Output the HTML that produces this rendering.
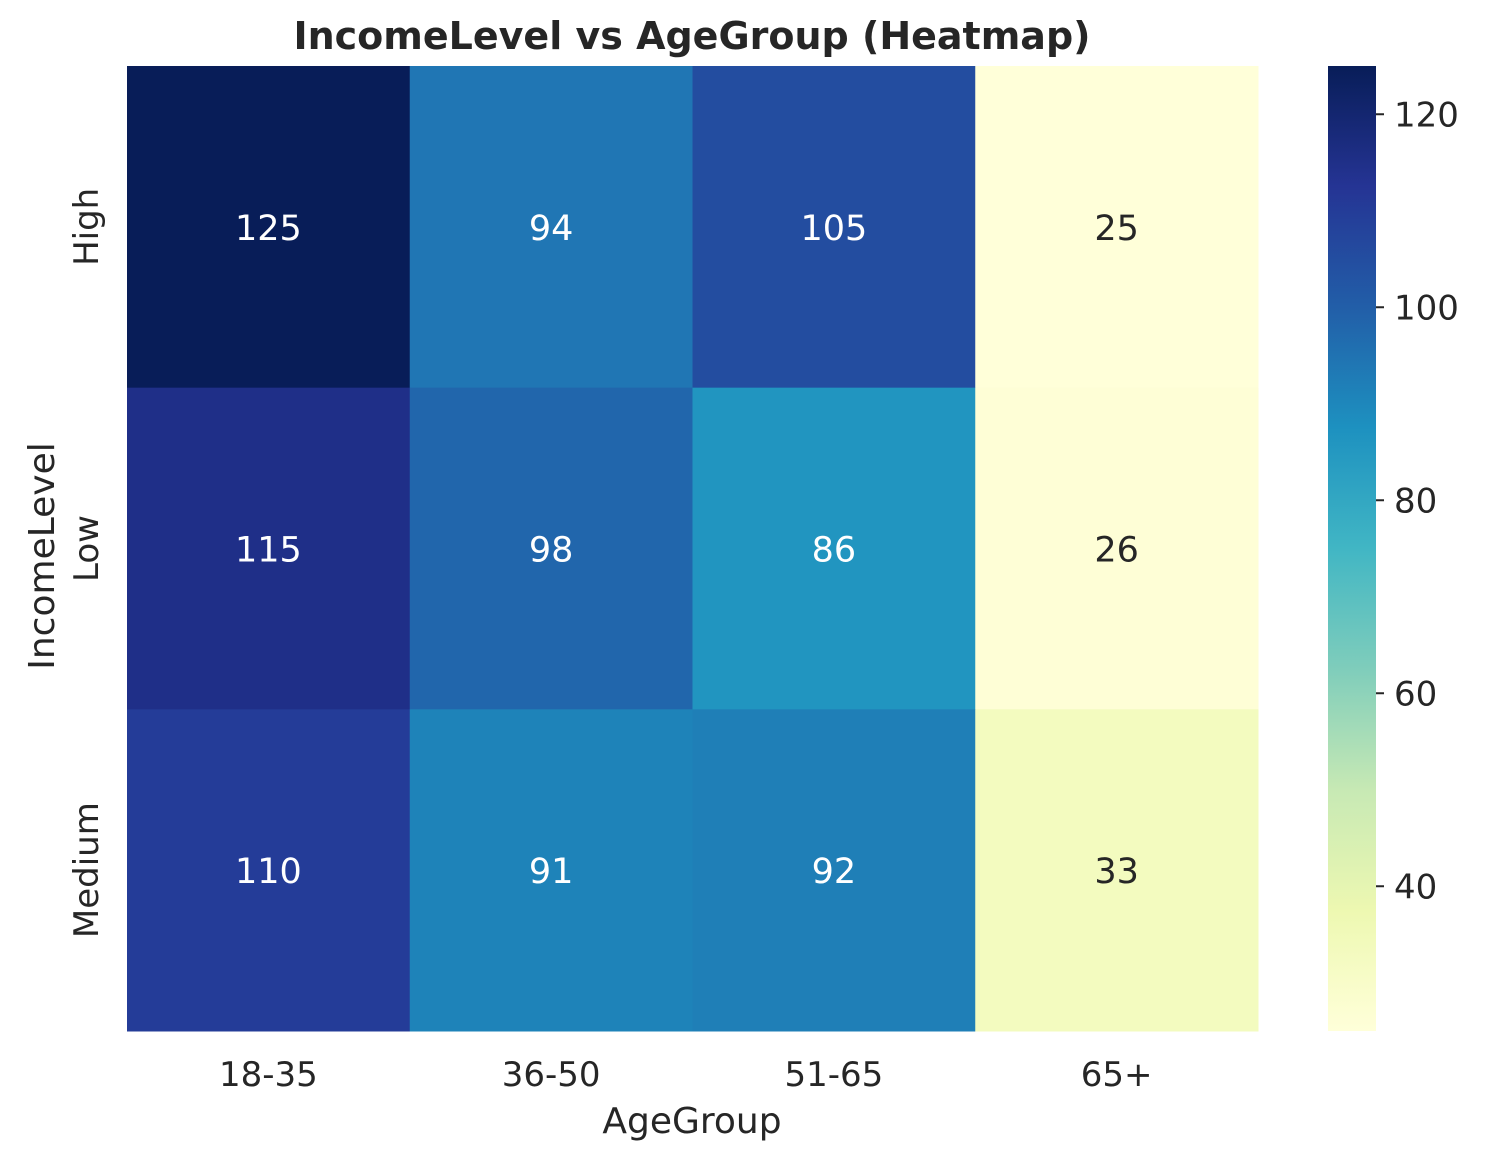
<!DOCTYPE html>
<html><head><meta charset="utf-8"><style>
body{margin:0;background:#fff;}
svg text{font-family:"DejaVu Sans","Liberation Sans",sans-serif;fill:#262626;}
</style></head><body>
<svg id="chart" width="1488" height="1160" xmlns="http://www.w3.org/2000/svg">
<defs><linearGradient id="cbg" x1="0" y1="1" x2="0" y2="0">
<stop offset="0" stop-color="#ffffd9"/><stop offset="0.125" stop-color="#edf8b1"/><stop offset="0.25" stop-color="#c7e9b4"/><stop offset="0.375" stop-color="#7fcdbb"/><stop offset="0.5" stop-color="#41b6c4"/><stop offset="0.625" stop-color="#1d91c0"/><stop offset="0.75" stop-color="#225ea8"/><stop offset="0.875" stop-color="#253494"/><stop offset="1" stop-color="#081d58"/>
</linearGradient></defs>
<text x="692" y="49" text-anchor="middle" font-size="38" font-weight="bold">IncomeLevel vs AgeGroup (Heatmap)</text>
<g id="cells"></g>
<rect x="1328" y="66" width="48" height="965" fill="url(#cbg)"/>
<g id="cbticks"></g>
<text x="692" y="1133" text-anchor="middle" font-size="36">AgeGroup</text>
<text transform="translate(54,556) rotate(-90)" text-anchor="middle" font-size="36">IncomeLevel</text>
</svg>
<script>
const columns=["18-35","36-50","51-65","65+"];
const rows=["High","Low","Medium"];
const values=[[125,94,105,25],[115,98,86,26],[110,91,92,33]];
const cbTicks=[40,60,80,100,120];
const vmin=25,vmax=125;
const stops=["#ffffd9","#edf8b1","#c7e9b4","#7fcdbb","#41b6c4","#1d91c0","#225ea8","#253494","#081d58"];
const X0=127,X1=1258,Y0=66,Y1=1031;
const NS="http://www.w3.org/2000/svg";
function hex(h){return [1,3,5].map(i=>parseInt(h.substr(i,2),16));}
function color(v){let t=Math.max(0,Math.min(1,(v-vmin)/(vmax-vmin)))*(stops.length-1);let i=Math.min(Math.floor(t),stops.length-2);let f=t-i;let a=hex(stops[i]),b=hex(stops[i+1]);let c=a.map((x,k)=>Math.round(x+(b[k]-x)*f));return {css:`rgb(${c})`,lum:(0.299*c[0]+0.587*c[1]+0.114*c[2])};}
const cw=(X1-X0)/columns.length,ch=(Y1-Y0)/rows.length;
function xS(i){return X0+i*cw;} function yS(j){return Y0+j*ch;}
function cbY(v){return Y1-(v-vmin)/(vmax-vmin)*(Y1-Y0);}
const svg=document.getElementById('chart'),g=document.getElementById('cells'),cb=document.getElementById('cbticks');
function mk(tag,at,parent){const e=document.createElementNS(NS,tag);for(const k in at)e.setAttribute(k,at[k]);parent.appendChild(e);return e;}
rows.forEach((r,j)=>{columns.forEach((c,i)=>{
 const v=values[j][i],col=color(v);
 const rc=mk('rect',{x:xS(i),y:yS(j),width:cw+0.5,height:ch+0.5,fill:col.css},g);
 
 
 const t=mk('text',{x:xS(i)+cw/2,y:yS(j)+ch/2+13,'text-anchor':'middle','font-size':'35'},g);
 t.style.fill=col.lum<140?'#ffffff':'#262626';
 t.textContent=v;
 
 
});});
columns.forEach((c,i)=>{const t=mk('text',{x:xS(i)+cw/2,y:1086,'text-anchor':'middle','font-size':'34'},svg);t.textContent=c;
 
 });
rows.forEach((r,j)=>{const cy=yS(j)+ch/2;const t=mk('text',{transform:`translate(98,${cy}) rotate(-90)`,'text-anchor':'middle','font-size':'34'},svg);t.textContent=r;
 
 });
cbTicks.forEach(v=>{const y=cbY(v);mk('line',{x1:1376,x2:1384,y1:y,y2:y,stroke:'#262626','stroke-width':2},cb);
 const t=mk('text',{x:1394,y:y+12,'font-size':'34'},cb);t.textContent=v;
 
 });
</script>
</body></html>
